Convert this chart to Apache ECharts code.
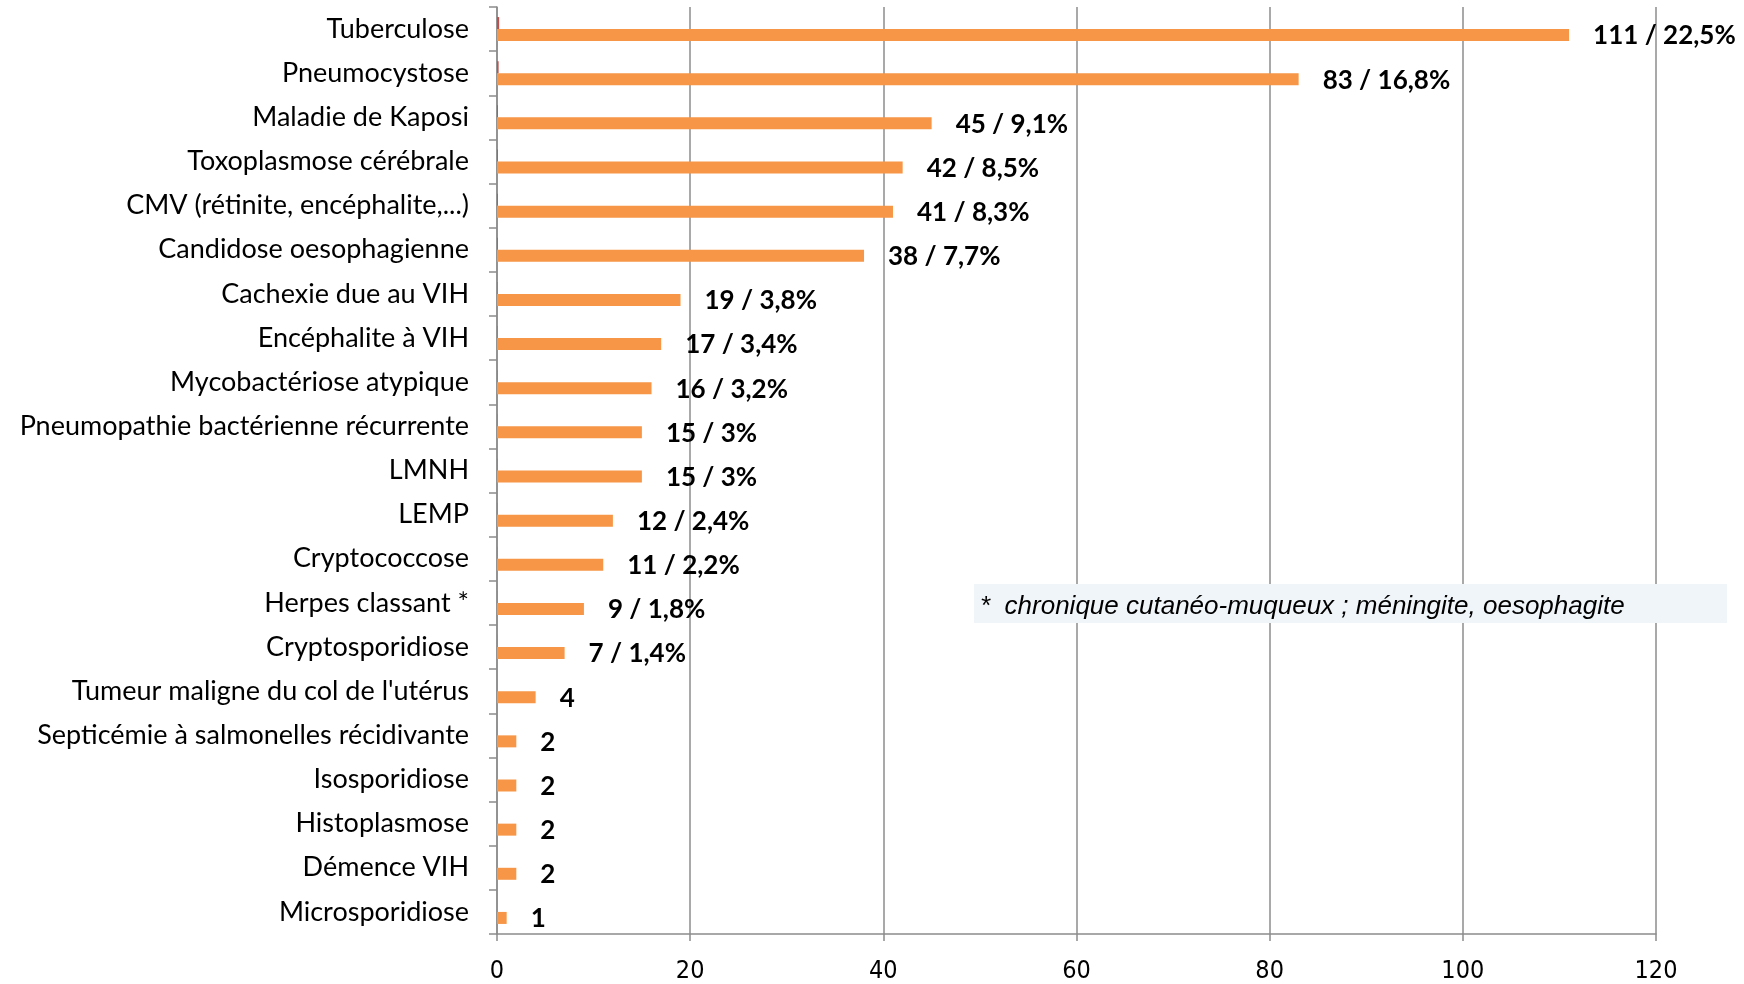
<!DOCTYPE html>
<html>
<head>
<meta charset="utf-8">
<script src="https://cdn.jsdelivr.net/npm/echarts@6/dist/echarts.min.js"></script>
<style>
  html, body { margin: 0; padding: 0; background: #fff; }
  #chart { width: 1744px; height: 984px; }
</style>
</head>
<body>
<div id="chart"></div>
<script>
const categories = [
  'Tuberculose', 'Pneumocystose', 'Maladie de Kaposi', 'Toxoplasmose cérébrale',
  'CMV (rétinite, encéphalite,...)', 'Candidose oesophagienne', 'Cachexie due au VIH',
  'Encéphalite à VIH', 'Mycobactériose atypique', 'Pneumopathie bactérienne récurrente',
  'LMNH', 'LEMP', 'Cryptococcose', 'Herpes classant *', 'Cryptosporidiose',
  "Tumeur maligne du col de l'utérus", 'Septicémie à salmonelles récidivante',
  'Isosporidiose', 'Histoplasmose', 'Démence VIH', 'Microsporidiose'
]
const counts = [111, 83, 45, 42, 41, 38, 19, 17, 16, 15, 15, 12, 11, 9, 7, 4, 2, 2, 2, 2, 1]
const percents = [22.5, 16.8, 9.1, 8.5, 8.3, 7.7, 3.8, 3.4, 3.2, 3, 3, 2.4, 2.2, 1.8, 1.4,
  null, null, null, null, null, null]
// second (red) series: share as a fraction, barely visible next to the axis
const shares = [0.225, 0.168, 0.091, 0.085, 0.083, 0.077, 0.038, 0.034, 0.032, 0.03, 0.03,
  0.024, 0.022, 0.018, 0.014, 0.008, 0.004, 0.004, 0.004, 0.004, 0.002]
const xTicks = [0, 20, 40, 60, 80, 100, 120]
const note = '*  chronique cutanéo-muqueux ; méningite, oesophagite'

const chart = echarts.init(document.getElementById('chart'))
const gridColor = '#8c8c8c'

const option = {
  animation: false,
  grid: {
    top: 7,
    bottom: 50,
    left: 497,
    right: 88
  },
  xAxis: {
    type: 'value',
    min: xTicks[0],
    max: xTicks[xTicks.length - 1],
    interval: 20,
    axisLine: { show: true, lineStyle: { color: gridColor, width: 1.5 } },
    axisTick: { show: true, length: 7, lineStyle: { color: gridColor, width: 1.5 } },
    axisLabel: {
      margin: 25,
      color: '#000',
      fontSize: 25,
      fontFamily: 'Liberation Sans Narrow, DejaVu Sans Condensed, sans-serif'
    },
    splitLine: { show: true, lineStyle: { color: gridColor, width: 1.5 } }
  },
  yAxis: {
    type: 'category',
    inverse: true,
    data: categories,
    axisLine: { show: true, lineStyle: { color: gridColor, width: 1.5 } },
    axisTick: { show: true, length: 8, lineStyle: { color: gridColor, width: 1.5 } },
    axisLabel: {
      margin: 28,
      color: '#000',
      fontSize: 27,
      fontFamily: 'Lato, Open Sans, sans-serif'
    }
  },
  series: [
    {
      name: 'part',
      type: 'bar',
      barWidth: 12,
      barGap: '0%',
      itemStyle: { color: '#C0504D' },
      silent: true,
      data: shares
    },
    {
      name: 'nombre',
      type: 'bar',
      barWidth: 12,
      itemStyle: { color: '#F79646' },
      data: counts,
      label: {
        show: true,
        position: 'right',
        distance: 24,
        color: '#000',
        fontSize: 26,
        fontWeight: 'bold',
        fontFamily: 'Lato, Open Sans, sans-serif',
        offset: [0, 1],
        formatter: function (p) {
          const pc = percents[p.dataIndex]
          if (pc == null) return String(p.value)
          return p.value + ' / ' + String(pc).replace('.', ',') + '%'
        }
      }
    }
  ],
  graphic: [
    {
      type: 'rect',
      left: 974,
      top: 584,
      shape: { width: 753, height: 39 },
      style: { fill: '#f0f5f9' },
      z: 10
    },
    {
      type: 'text',
      left: 980,
      top: 594,
      z: 11,
      style: {
        text: note,
        fill: '#000',
        font: 'italic 26px "Liberation Sans Narrow", "Liberation Sans", sans-serif'
      }
    }
  ]
}

chart.setOption(option)
</script>
</body>
</html>
